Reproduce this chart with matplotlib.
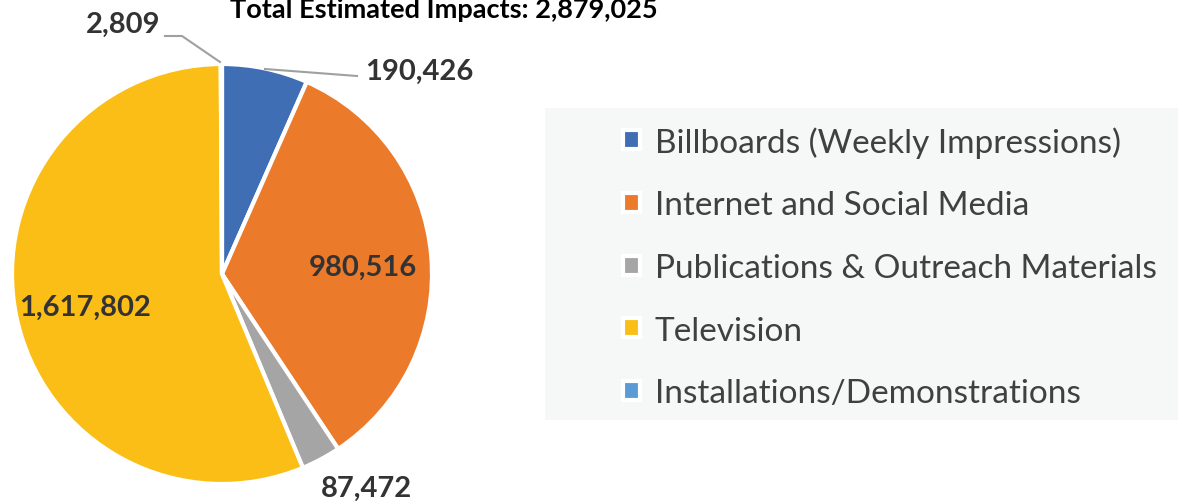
import matplotlib.pyplot as plt
from matplotlib.patches import Rectangle

# data
categories = ['Billboards (Weekly Impressions)', 'Internet and Social Media',
              'Publications & Outreach Materials', 'Television',
              'Installations/Demonstrations']
impacts = [190426, 980516, 87472, 1617802, 2809]
colors = ['#3F6EB5', '#EC7A2B', '#A5A5A5', '#FBBE17', '#5A9BD5']
total = sum(impacts)

plt.rcParams['font.family'] = ['Lato', 'DejaVu Sans']

W, H = 1178, 502
fig = plt.figure(figsize=(W / 100, H / 100), dpi=100)
ax = fig.add_axes([0, 0, 1, 1])

# pie in pixel coords (y measured from bottom)
cx, cy, r = 222, H - 275, 210
wedges, _ = ax.pie(impacts, colors=colors, startangle=90, counterclock=False,
                   center=(cx, cy), radius=r, frame=True,
                   wedgeprops=dict(edgecolor='white', linewidth=3))
ax.set_xlim(0, W)
ax.set_ylim(0, H)
ax.set_aspect('equal')
ax.axis('off')

lab = dict(fontsize=21, fontweight='bold', color='#333333', ha='center', va='center')
ax.text(363, H - 268, f'{impacts[1]:,}', **lab)
ax.text(85, H - 308, f'{impacts[3]:,}', **lab)
ax.text(366, H - 489, f'{impacts[2]:,}', **lab)
ax.text(419, H - 72, f'{impacts[0]:,}', **lab)
ax.text(123, H - 25, f'{impacts[4]:,}', **lab)

# leader lines
ax.plot([265, 357], [H - 70, H - 77], color='#A0A0A0', lw=1.5)
ax.plot([165, 182, 220], [H - 37, H - 37, H - 63], color='#A0A0A0', lw=1.5)

ax.text(444, H - 18, f'Total Estimated Impacts: {total:,}', fontsize=19.5,
        fontweight='bold', color='black', ha='center', va='baseline')

# legend with light background panel
ax.add_patch(Rectangle((545, H - 421), W - 545, 312, facecolor='#F6F7F7',
                       edgecolor='none', zorder=0))
leg = ax.legend(wedges, categories, loc='upper left',
                bbox_to_anchor=(593 / W, 1 - 97 / H), frameon=False,
                fontsize=24, labelcolor='#404040', handlelength=0.5,
                handleheight=0.5, handletextpad=0.45, labelspacing=0.98)

fig.savefig('out.png', dpi=100)
